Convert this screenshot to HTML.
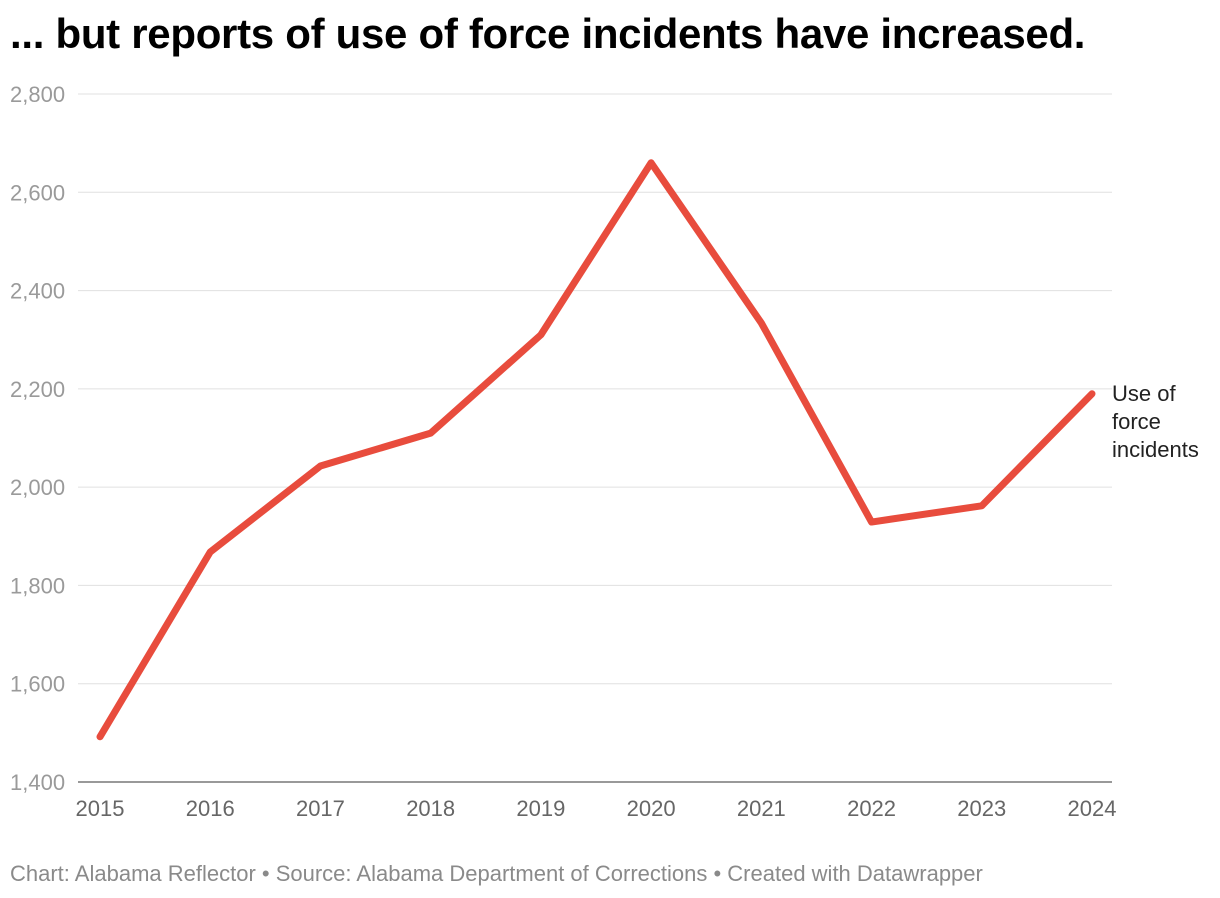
<!DOCTYPE html>
<html><head><meta charset="utf-8">
<style>
body{margin:0;background:#fff;font-family:"Liberation Sans",Arial,sans-serif;}
#wrap{position:relative;width:1220px;height:898px;overflow:hidden;}
h1{position:absolute;left:10px;top:10px;margin:0;font-size:42px;font-weight:bold;color:#000;letter-spacing:-0.3px;}
#foot{position:absolute;left:10px;top:861px;font-size:22px;color:#8a8a8a;}
</style></head><body>
<div id="wrap">
<h1>... but reports of use of force incidents have increased.</h1>
<svg id="chart" width="1220" height="898" style="position:absolute;left:0;top:0"></svg>
<div id="foot">Chart: Alabama Reflector • Source: Alabama Department of Corrections • Created with Datawrapper</div>
</div>
<script>
const years=["2015","2016","2017","2018","2019","2020","2021","2022","2023","2024"];
const useOfForce=[1492,1868,2043,2110,2310,2660,2334,1929,1962,2190];
const yTicks=[1400,1600,1800,2000,2200,2400,2600,2800];
const yTickLabels=["1,400","1,600","1,800","2,000","2,200","2,400","2,600","2,800"];
const seriesLabel=["Use of","force","incidents"];

const NS="http://www.w3.org/2000/svg";
const svg=document.getElementById('chart');
const x0=100,x1=1092,yTop=94,yBot=782,yMin=1400,yMax=2800;
function xs(i){return x0+(x1-x0)*i/(years.length-1);}
function ys(v){return yBot-(v-yMin)/(yMax-yMin)*(yBot-yTop);}
function mk(t,a){const e=document.createElementNS(NS,t);for(const k in a)e.setAttribute(k,a[k]);svg.appendChild(e);return e;}
yTicks.forEach((v,i)=>{
  const g=mk('line',{x1:78,x2:1112,y1:ys(v),y2:ys(v),stroke:i===0?'#333':'#e0e0e0','stroke-width':1});
  
  
  const t=mk('text',{x:10,y:ys(v)+8,'font-size':22,fill:'#9a9a9a','font-family':'Liberation Sans, sans-serif'});
  t.textContent=yTickLabels[i];
  
  
});
years.forEach((y,i)=>{
  const t=mk('text',{x:xs(i),y:816,'font-size':22,fill:'#666','text-anchor':'middle','font-family':'Liberation Sans, sans-serif'});
  t.textContent=y;
  
  
});
const d=useOfForce.map((v,i)=>(i?'L':'M')+xs(i)+','+ys(v)).join(' ');
const p=mk('path',{d:d,fill:'none',stroke:'#e84c3d','stroke-width':7,'stroke-linejoin':'round','stroke-linecap':'round'});


const last=useOfForce.length-1;
seriesLabel.forEach((s,i)=>{
  const t=mk('text',{x:1112,y:ys(useOfForce[last])+7+i*28,'font-size':22,fill:'#222','font-family':'Liberation Sans, sans-serif'});
  t.textContent=s;
  
  
});
</script>
</body></html>
